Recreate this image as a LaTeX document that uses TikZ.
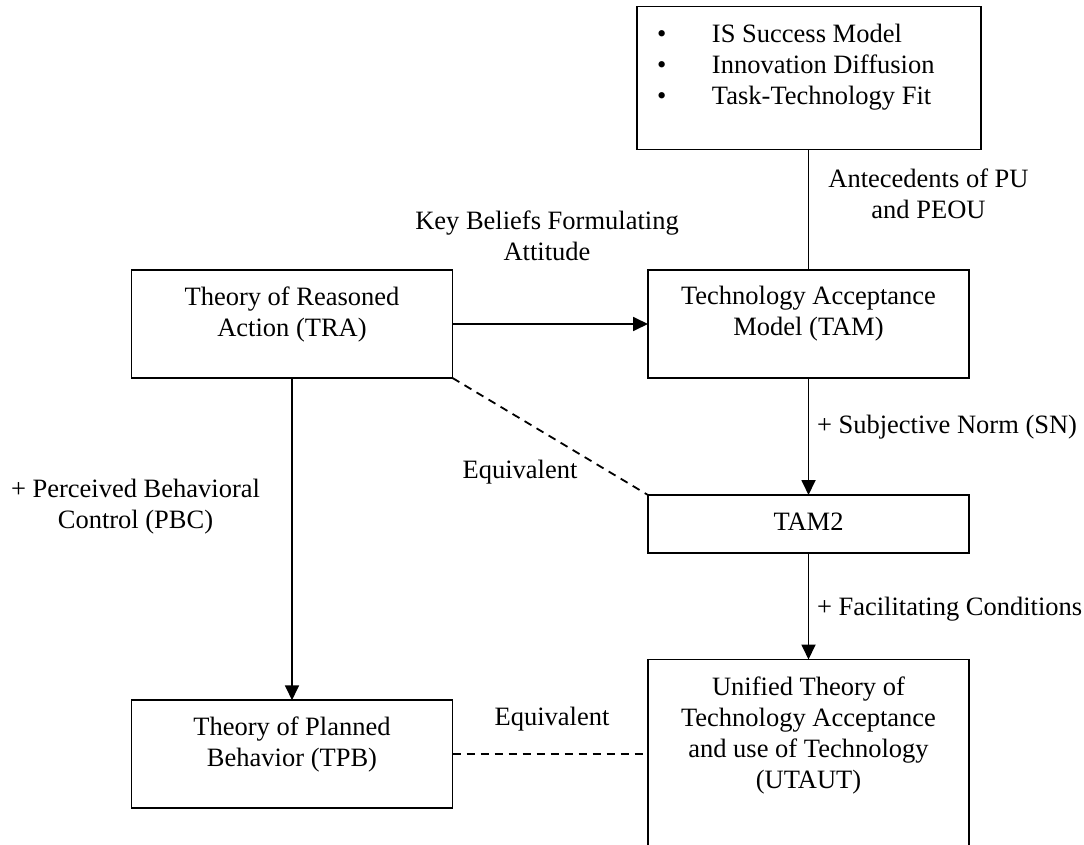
\documentclass[tikz,border=0pt]{standalone}
\usepackage{fontspec}
\setmainfont{Liberation Serif}
\usetikzlibrary{arrows.meta}
\begin{document}
\begin{tikzpicture}[x=1pt,y=-1pt,
  every node/.style={font=\fontsize{26.5}{31}\selectfont, inner sep=0pt, outer sep=0pt},
  box/.style={draw, line width=1.8pt},
  lbl/.style={align=center},
  con/.style={line width=1.8pt},
  arr/.style={line width=1.8pt, -{Triangle[length=15pt,width=14pt]}},
  dsh/.style={line width=1.8pt, dash pattern=on 8pt off 6pt}
]
\useasboundingbox (0,0) rectangle (1084,845);
\clip (0,0) rectangle (1084,845);
\fill[white] (0,0) rectangle (1084,845);

% boxes
\node[box, minimum width=344pt, minimum height=143pt] (is) at (809,78) {};
\node[align=left, anchor=north west] (islist) at (657,24)
  {\makebox[55pt][l]{\textbullet}IS Success Model\\
   \makebox[55pt][l]{\textbullet}Innovation Diffusion\\
   \makebox[55pt][l]{\textbullet}Task-Technology Fit};

\node[box, minimum width=321pt, minimum height=108pt] (tra) at (292,324) {};
\node[lbl] (tratxt) at (292,314) {Theory of Reasoned\\Action (TRA)};

\node[box, minimum width=321pt, minimum height=108pt] (tam) at (808.5,324) {};
\node[lbl] (tamtxt) at (808.5,314) {Technology Acceptance\\Model (TAM)};

\node[box, minimum width=321pt, minimum height=58pt] (tam2) at (808.5,524) {};
\node[lbl] (tam2txt) at (808.5,522) {TAM2};

\node[box, minimum width=321pt, minimum height=189pt] (utaut) at (808.5,754) {};
\node[lbl] (utauttxt) at (808.5,735) {Unified Theory of\\Technology Acceptance\\and use of Technology\\(UTAUT)};

\node[box, minimum width=321pt, minimum height=107.5pt] (tpb) at (292,754) {};
\node[lbl] (tpbtxt) at (292,744.5) {Theory of Planned\\Behavior (TPB)};

% labels
\node[lbl] (kb) at (547,236) {Key Beliefs Formulating\\Attitude};
\node[lbl] (ante) at (928.5,193.5) {Antecedents of PU\\and PEOU};
\node[lbl] (pbc) at (135.5,506.5) {+ Perceived Behavioral\\Control (PBC)};
\node[anchor=west] (sn) at (817,427) {+ Subjective Norm (SN)};
\node[anchor=west] (fc) at (817,609) {+ Facilitating Conditions};
\node (eq1) at (520,472) {Equivalent};
\node (eq2) at (552,719) {Equivalent};

% connectors
\draw[con] (is.south -| tam.north) -- (tam.north);
\draw[arr] (tra.east) -- (tam.west);
\draw[arr] (tam.south) -- (tam2.north);
\draw[arr] (tam2.south) -- (utaut.north);
\draw[arr] (tra.south) -- (tpb.north);
\draw[dsh] (tra.south east) -- (tam2.north west);
\draw[dsh] (tpb.east) -- (utaut.west);
\end{tikzpicture}
\end{document}
